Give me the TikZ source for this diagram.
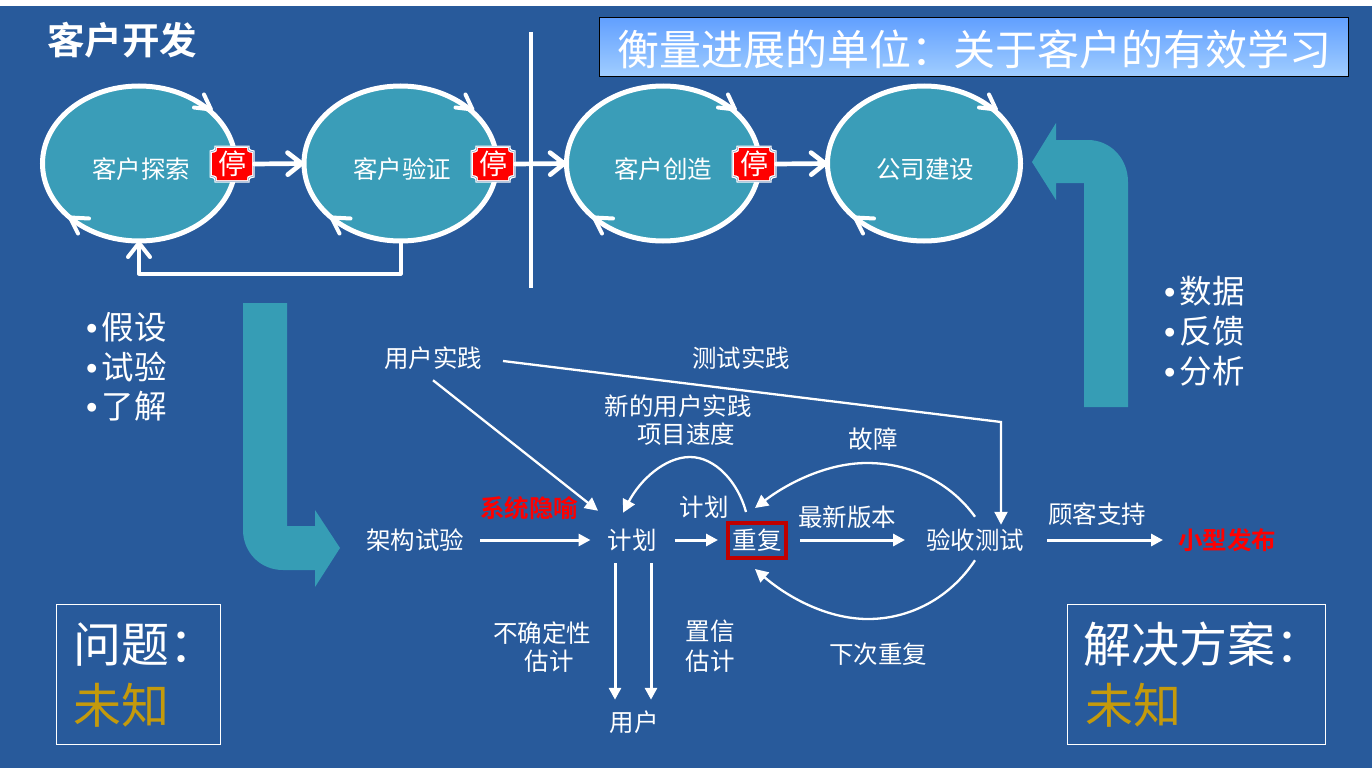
\documentclass[tikz,border=0pt]{standalone}
\usepackage{fontspec}
\setmainfont{Noto Sans CJK SC}
\newfontfamily\cjkb{Noto Sans CJK SC Bold}
\newfontfamily\latn{Liberation Sans}
\usetikzlibrary{arrows.meta,shapes.geometric,calc}
\definecolor{bgblue}{HTML}{285A9B}
\definecolor{teal1}{HTML}{3A9DB8}
\definecolor{teal2}{HTML}{369DB5}
\definecolor{gold1}{HTML}{C49A0C}
\definecolor{boxred}{HTML}{C00000}
\newcommand{\fs}[1]{\fontsize{#1}{#1}\selectfont}
\newcommand{\bl}{{\latn •}\hspace{4.6pt}}
\newcommand{\fwcolon}{\char"FF1A\relax}
\tikzset{
  x=1pt,y=-1pt,
  txt/.style={inner sep=0pt,outer sep=0pt,text=white,font=\fs{#1},text height=#1*.88pt,text depth=#1*.12pt},
  lab/.style={txt=24.5},
  redlab/.style={lab,text=red,font=\cjkb\fs{24.5}},
  bul/.style={txt=32.5,anchor=west},
  phase/.style={ellipse,draw=white,line width=5pt,fill=teal1,minimum width=193pt,minimum height=155pt,inner sep=0pt,outer sep=0pt},
  stoptag/.style={txt=28,minimum width=45pt,minimum height=37pt},
  bigarrow/.style={line width=4.7pt,white,-{Straight Barb[length=14pt,width=22pt,round]},line cap=round,line join=round},
  chev/.style={line width=4pt,white,line cap=round,line join=round},
  flow/.style={line width=3pt,white,-{Triangle[length=12pt,width=12pt]}},
  thin flow/.style={line width=2.3pt,white,-{Triangle[length=13pt,width=13pt]}},
  teal block/.style={fill=teal2,draw=none},
  framebox/.style={draw=white,line width=1pt,fill=none}
}
\newcommand{\plaque}[3]{%
  \path[fill=white] \plaqpath{#2}{#3}{22.5}{18.5}{5};
  \path[fill=bgblue!60!white] \plaqpath{#2}{#3}{21.5}{17.5}{5};
  \path[fill=white] \plaqpath{#2}{#3}{21}{17}{5};
  \path[fill=red] \plaqpath{#2}{#3}{20}{16}{5};
  \node[stoptag] (#1) at (#2,#3) {停};
}
\newcommand{\plaqpath}[5]{%
  ({#1-#3+#5},{#2-#4}) -- ({#1+#3-#5},{#2-#4})
  .. controls ({#1+#3-#5},{#2-#4+#5*.8}) .. ({#1+#3},{#2-#4+#5})
  -- ({#1+#3},{#2+#4-#5})
  .. controls ({#1+#3-#5},{#2+#4-#5*.8}) .. ({#1+#3-#5},{#2+#4})
  -- ({#1-#3+#5},{#2+#4})
  .. controls ({#1-#3+#5},{#2+#4-#5*.8}) .. ({#1-#3},{#2+#4-#5})
  -- ({#1-#3},{#2-#4+#5})
  .. controls ({#1-#3+#5},{#2-#4+#5*.8}) .. cycle
}
\newcommand{\chevrons}[1]{%
  \draw[chev] ([shift={(65,-69)}]#1.center) -- ([shift={(72,-54)}]#1.center) -- ([shift={(55,-56)}]#1.center);
  \draw[chev] ([shift={(-50,55)}]#1.center) -- ([shift={(-69,54)}]#1.center) -- ([shift={(-61,70)}]#1.center);
}
\begin{document}
\begin{tikzpicture}
\useasboundingbox (0,0) rectangle (1372,768);
\fill[white] (0,0) rectangle (1372,768);
\fill[bgblue] (0,6) rectangle (1372,768);

% title
\node[txt=37.5,font=\cjkb\fs{37.5},anchor=west] (devtitle) at (47,40) {客户开发};
\shade[top color={rgb,255:red,98;green,160;blue,255},bottom color={rgb,255:red,160;green,205;blue,255}] (599,18) rectangle (1348,76);
\draw[black,line width=1pt] (599,18) rectangle (1348,76);
\node[txt=42,anchor=west] (unit) at (617,50) {衡量进展的单位\fwcolon 关于客户的有效学习};

% block arrows
\fill[teal block] (243,303) -- (243,530) .. controls (243,552) and (260,570) .. (283,570) -- (315,570) -- (315,587) -- (340,548) -- (315,510) -- (315,526) -- (287,526) -- (287,303) -- cycle;
\fill[teal block] (1128,407) -- (1128,182) .. controls (1128,158) and (1110,140) .. (1088,140) -- (1056,140) -- (1056,123) -- (1032,162) -- (1056,200) -- (1056,183) -- (1084,183) -- (1084,407) -- cycle;

% ellipses
\node[phase] (p1) at (139,163.5) {};
\node[phase] (p2) at (400.5,163.5) {};
\node[phase] (p3) at (663,163.5) {};
\node[phase] (p4) at (924,163.5) {};
\node[lab] (l1) at (141,169) {客户探索};
\node[lab] (l2) at (402,169) {客户验证};
\node[lab] (l3) at (663,169) {客户创造};
\node[lab] (l4) at (925,169) {公司建设};
\chevrons{p1}\chevrons{p2}\chevrons{p3}\chevrons{p4}

% divider
\coordinate (divtop) at (531,32);
\coordinate (divbot) at (531,288);

% badges
\plaque{s1}{232}{164}
\plaque{s2}{493}{164}
\plaque{s3}{754}{164}
\draw[white,line width=4pt] (divtop) -- (divbot);
\draw[bigarrow] (s1.east) -- (p2.west);
\draw[bigarrow] (s2.east) -- (p3.west);
\draw[bigarrow] (s3.east) -- (p4.west);
\draw[bigarrow,line width=4pt,line cap=butt] (p2.south) -- ++(0,32.5) -| (p1.south);

% bullets
\node[bul] (b1) at (86,327) {\bl 假设};
\node[bul] (b2) at (86,367) {\bl 试验};
\node[bul] (b3) at (86,406) {\bl 了解};
\node[bul] (b4) at (1164,291) {\bl 数据};
\node[bul] (b5) at (1164,331) {\bl 反馈};
\node[bul] (b6) at (1164,371) {\bl 分析};

% process labels
\node[lab] (prac) at (433,358) {用户实践};
\node[lab] (test) at (741,358) {测试实践};
\node[lab] (newp) at (678,406) {新的用户实践};
\node[lab] (vel) at (686,434) {项目速度};
\node[lab] (bug) at (873,439) {故障};
\node[redlab] (meta) at (529,508) {系统隐喻};
\node[lab] (arch) at (415,540) {架构试验};
\node[lab] (plan) at (632,540) {计划};
\node[lab] (plan2) at (704,507) {计划};
\node[lab,draw=boxred,line width=4pt,minimum width=58pt,minimum height=35pt] (iter) at (757,540) {重复};
\node[lab] (build) at (847,517) {最新版本};
\node[lab] (acc) at (975,540) {验收测试};
\node[lab] (supp) at (1097,514) {顾客支持};
\node[redlab] (rel) at (1227,540) {小型发布};
\node[lab] (unc) at (542,633) {不确定性};
\node[lab] (est1) at (549,661) {估计};
\node[lab] (conf) at (710,631) {置信};
\node[lab] (est2) at (710,661) {估计};
\node[lab] (nexti) at (878,654) {下次重复};
\node[lab] (usr) at (634,722) {用户};

% process connectors
\draw[flow,shorten <=16pt,shorten >=17pt] (arch.east) -- (plan.west);
\draw[flow,shorten <=18pt,shorten >=10pt] (plan.east) -- (iter.west);
\draw[flow,shorten <=14pt,shorten >=21pt] (iter.east) -- (acc.west);
\draw[flow,shorten <=23pt,shorten >=15pt] (acc.east) -- (rel.west);
\draw[thin flow] ([shift={(0,10)}]prac.south) -- ([shift={(-34,-17)}]plan.north);
\draw[thin flow] ([shift={(21,3)}]prac.east) -- (1001,422) -- ([shift={(26,-3)}]acc.north);
\draw[flow] ([shift={(-17,11)}]plan.south) -- ([shift={(-19,-10)}]usr.north);
\draw[flow] ([shift={(19,11)}]plan.south) -- ([shift={(17,-10)}]usr.north);
\draw[thin flow] ([shift={(-11,-10.5)}]iter.north) .. controls (738,482) and (715,457) .. (690,457) .. controls (665,457) and (640,480) .. ([shift={(-9,-15)}]plan.north);
\draw[thin flow] ([shift={(0,-11)}]acc.north) .. controls (950,482) and (910,463) .. (867,463) .. controls (825,463) and (785,485) .. ([shift={(-2,-14.5)}]iter.north);
\draw[thin flow] ([shift={(0,8)}]acc.south) .. controls (950,598) and (910,619) .. (868,619) .. controls (825,619) and (785,595) .. ([shift={(-2,11.5)}]iter.south);

% bottom boxes
\draw[framebox] (56,604) rectangle (220,744);
\draw[framebox] (1067,604) rectangle (1325,744);
\node[txt=48,anchor=west] (q1) at (73,644) {问题\fwcolon};
\node[txt=48,anchor=west,text=gold1] (q2) at (73,705) {未知};
\node[txt=48,anchor=west] (a1) at (1083,644) {解决方案\fwcolon};
\node[txt=48,anchor=west,text=gold1] (a2) at (1085,705) {未知};
\end{tikzpicture}
\end{document}
